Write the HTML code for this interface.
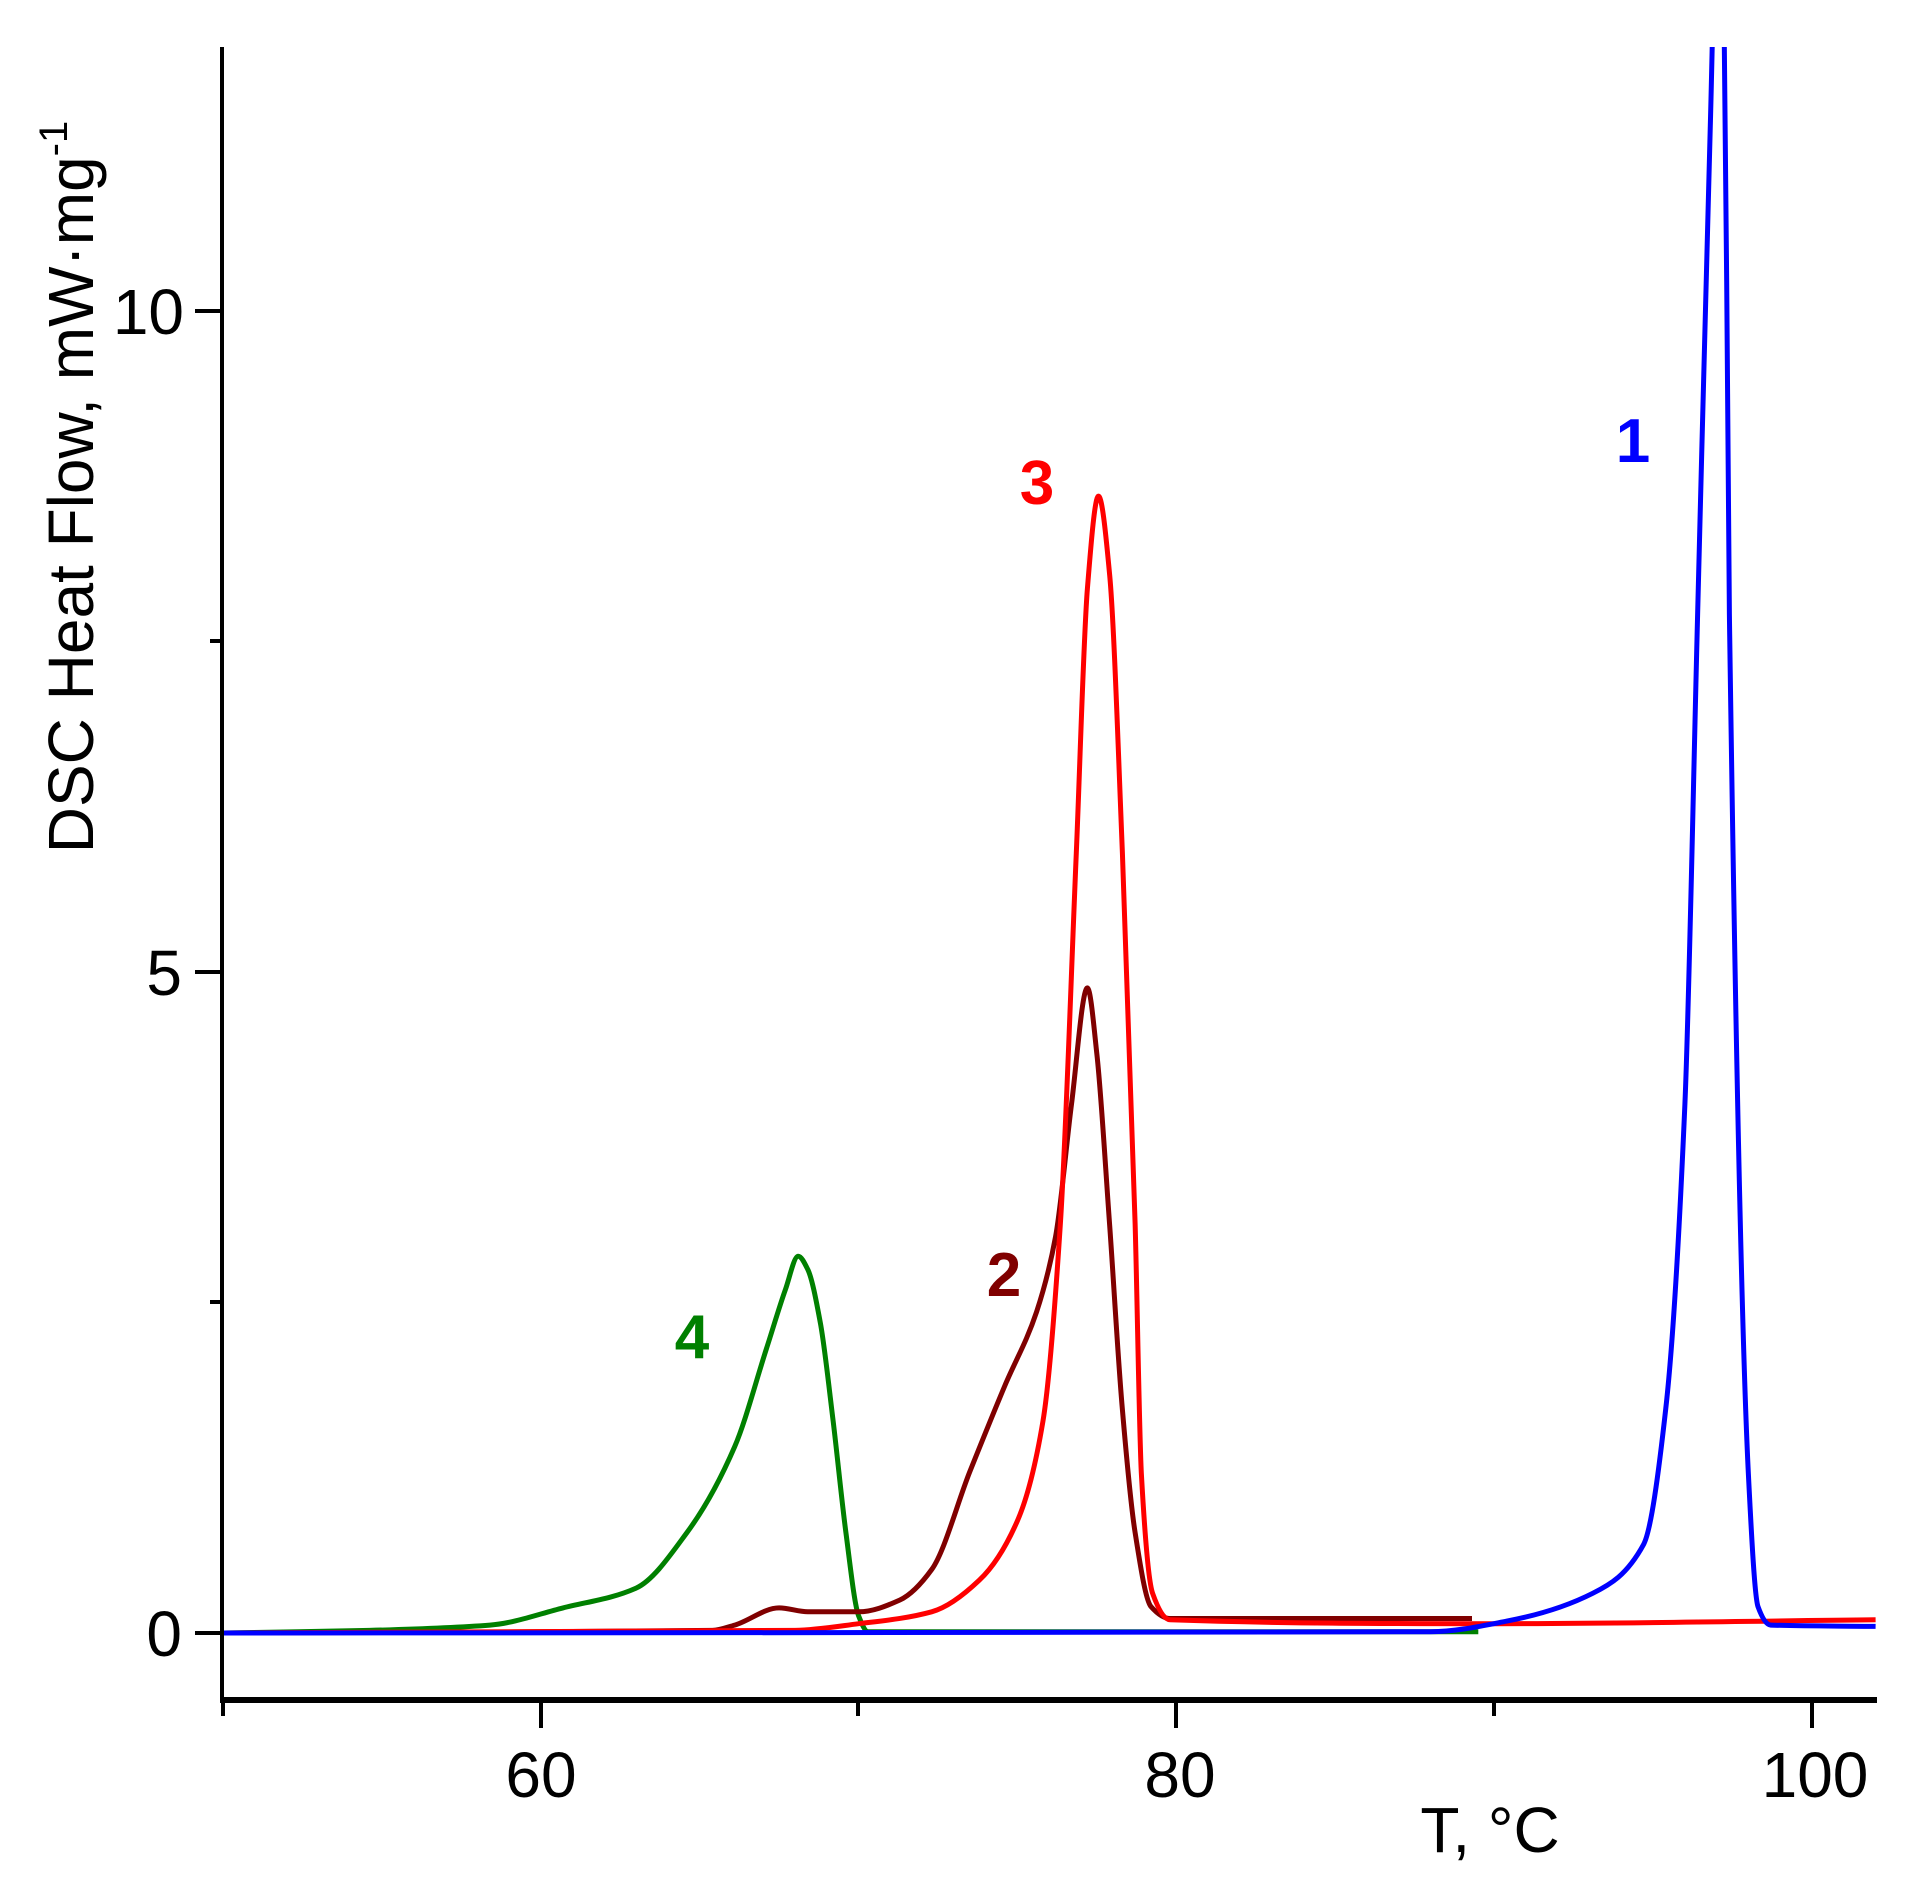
<!DOCTYPE html>
<html><head><meta charset="utf-8"><style>
html,body{margin:0;padding:0;background:#fff;}
svg{display:block;}
text{font-family:"Liberation Sans",sans-serif;}
</style></head><body>
<svg id="s" width="1922" height="1896" viewBox="0 0 1922 1896" xmlns="http://www.w3.org/2000/svg">
<defs><clipPath id="c"><rect x="223" y="47" width="1654" height="1650"/></clipPath></defs>
<g id="curves" clip-path="url(#c)" fill="none" stroke-width="5" stroke-linejoin="round"></g>
<line x1="222" y1="47" x2="222" y2="1703" stroke="#000" stroke-width="4"/>
<line x1="220" y1="1700" x2="1877" y2="1700" stroke="#000" stroke-width="6"/>
<g stroke="#000" stroke-width="4">
<line x1="195" y1="1633" x2="222" y2="1633"/>
<line x1="195" y1="972" x2="222" y2="972"/>
<line x1="195" y1="311" x2="222" y2="311"/>
<line x1="210" y1="1302" x2="222" y2="1302"/>
<line x1="210" y1="641" x2="222" y2="641"/>
<line x1="223" y1="1700" x2="223" y2="1716"/>
<line x1="541" y1="1700" x2="541" y2="1728"/>
<line x1="858" y1="1700" x2="858" y2="1716"/>
<line x1="1176" y1="1700" x2="1176" y2="1728"/>
<line x1="1494" y1="1700" x2="1494" y2="1716"/>
<line x1="1812" y1="1700" x2="1812" y2="1728"/>
</g>
<g font-size="64" fill="#000">
<text x="182" y="1656" text-anchor="end">0</text>
<text x="182" y="995" text-anchor="end">5</text>
<text x="184" y="334" text-anchor="end">10</text>
<text x="541" y="1797" text-anchor="middle">60</text>
<text x="1180" y="1797" text-anchor="middle">80</text>
<text x="1815" y="1797" text-anchor="middle">100</text>
<text x="1490" y="1852" text-anchor="middle">T, °C</text>
<text transform="translate(93,487) rotate(-90)" text-anchor="middle" font-size="64">DSC Heat Flow, mW·mg<tspan font-size="40" dy="-26">-1</tspan></text>
</g>
<g font-size="62" font-weight="bold" text-anchor="middle">
<text x="1633" y="462" fill="#0000ff">1</text>
<text x="1037" y="504" fill="#ff0000">3</text>
<text x="1004" y="1296" fill="#800000">2</text>
<text x="692" y="1358" fill="#008000">4</text>
</g>
</svg>
<script>
function X(t){return 223+(t-50)*31.78}
function Y(v){return 1633-v*132.2}
var series=[
["#008000",[[50,0],[54.6,0.02],[58.4,0.06],[60.7,0.19],[63.0,0.34],[64.6,0.76],[66.1,1.41],[67.1,2.15],[67.7,2.6],[68.1,2.85],[68.4,2.75],[68.8,2.34],[69.2,1.6],[69.6,0.76],[70.0,0.13],[70.3,0.01],[89.5,0.01]]],
["#800000",[[50,0],[65.4,0.02],[66.1,0.06],[67.5,0.19],[68.4,0.16],[70,0.16],[71.3,0.25],[72.3,0.48],[73.5,1.22],[74.6,1.87],[75.6,2.43],[76.2,3.0],[76.7,4.0],[77.2,4.88],[77.5,4.37],[77.9,3.08],[78.3,1.69],[78.7,0.76],[79.2,0.2],[79.8,0.11],[89.3,0.11]]],
["#ff0000",[[50,0],[68,0.02],[70,0.07],[72.3,0.16],[73.8,0.4],[75.0,0.85],[75.8,1.6],[76.35,3.1],[76.85,5.9],[77.2,7.9],[77.55,8.6],[77.9,8.0],[78.3,5.9],[78.7,3.1],[78.9,1.2],[79.25,0.3],[79.8,0.1],[90,0.07],[102,0.1]]],
["#0000ff",[[50,0],[88,0.01],[90.4,0.09],[93.1,0.3],[94.7,0.67],[95.4,1.7],[96.0,4.0],[96.4,7.7],[96.8,11.4],[97.0,13],[97.2,13],[97.4,7.7],[98.0,1.2],[98.3,0.2],[98.7,0.06],[102,0.05]]]
];
function monotone(p){
 var n=p.length,d=[],m=[];
 for(var i=0;i<n-1;i++)d.push((p[i+1][1]-p[i][1])/(p[i+1][0]-p[i][0]));
 m[0]=d[0];m[n-1]=d[n-2];
 for(var i=1;i<n-1;i++){ if(d[i-1]*d[i]<=0)m[i]=0; else { var h0=p[i][0]-p[i-1][0],h1=p[i+1][0]-p[i][0]; var w1=2*h1+h0,w2=h1+2*h0; m[i]=(w1+w2)/(w1/d[i-1]+w2/d[i]); } }
 return m;
}
var g=document.getElementById('curves');
series.forEach(function(s){
 var p=s[1],m=monotone(p),d="M"+X(p[0][0]).toFixed(1)+","+Y(p[0][1]).toFixed(1);
 for(var i=0;i<p.length-1;i++){
  var h=p[i+1][0]-p[i][0];
  var c1x=p[i][0]+h/3,c1y=p[i][1]+m[i]*h/3,c2x=p[i+1][0]-h/3,c2y=p[i+1][1]-m[i+1]*h/3;
  d+=" C"+X(c1x).toFixed(1)+","+Y(c1y).toFixed(1)+" "+X(c2x).toFixed(1)+","+Y(c2y).toFixed(1)+" "+X(p[i+1][0]).toFixed(1)+","+Y(p[i+1][1]).toFixed(1);
 }
 var e=document.createElementNS("http://www.w3.org/2000/svg","path");
 e.setAttribute("d",d);e.setAttribute("stroke",s[0]);g.appendChild(e);
});
</script>
</body></html>
